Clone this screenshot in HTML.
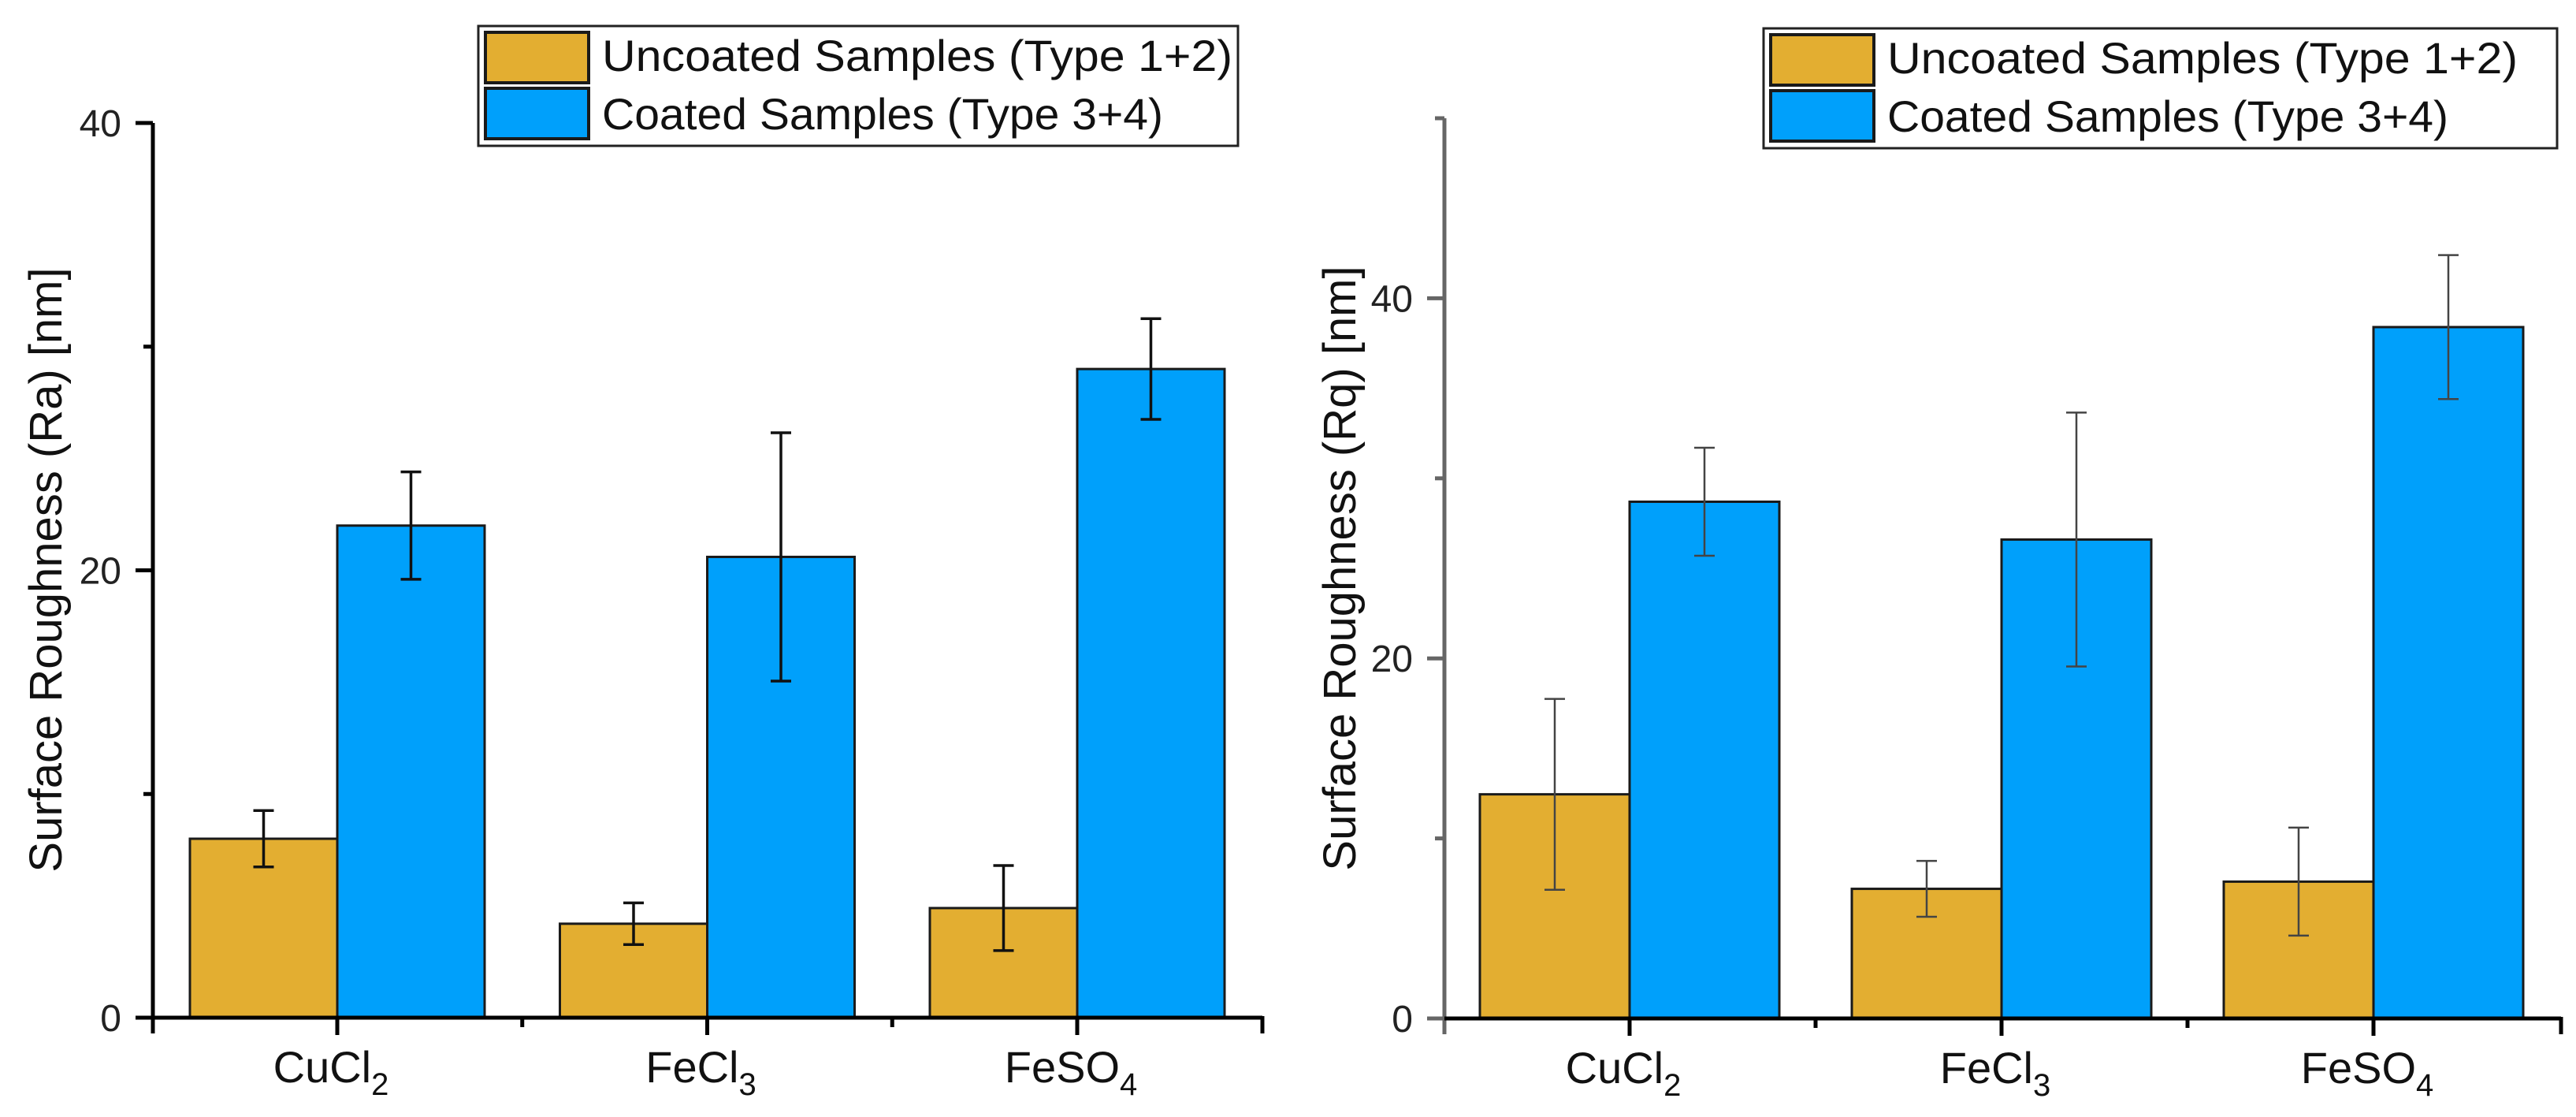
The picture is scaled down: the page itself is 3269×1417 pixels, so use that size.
<!DOCTYPE html>
<html><head><meta charset="utf-8"><style>
html,body{margin:0;padding:0;background:#fff;}
svg{display:block;font-family:"Liberation Sans",Arial,sans-serif;}
</style></head><body>
<svg id="fig" width="3269" height="1417" viewBox="0 0 3269 1417" xmlns="http://www.w3.org/2000/svg"></svg>
<script>
// ---- data ----
const categories = ["CuCl", "FeCl", "FeSO"];
const categorySubs = ["2", "3", "4"];
const seriesNames = ["Uncoated Samples (Type 1+2)", "Coated Samples (Type 3+4)"];
const raUncoated = [8.0, 4.2, 4.9];
const raUncoatedErr = [1.26, 0.93, 1.9];
const raCoated = [22.0, 20.6, 29.0];
const raCoatedErr = [2.4, 5.55, 2.25];
const rqUncoated = [12.45, 7.2, 7.6];
const rqUncoatedErr = [5.3, 1.55, 3.0];
const rqCoated = [28.7, 26.6, 38.4];
const rqCoatedErr = [3.0, 7.05, 4.0];
const raTicks = [0, 20, 40];
const raMinor = [10, 30];
const rqTicks = [0, 20, 40];
const rqMinor = [10, 30, 50];

const NS = "http://www.w3.org/2000/svg";
const svg = document.getElementById("fig");
const ORANGE = "#E3AE31", BLUE = "#00A0FB";
function mk(tag, attrs, parent) {
  const e = document.createElementNS(NS, tag);
  for (const k in attrs) e.setAttribute(k, attrs[k]);
  (parent || svg).appendChild(e);
  return e;
}

function drawChart(cfg) {
  const g = mk("g", {});
  
  
  const y = v => cfg.y0 - (v - 0) / cfg.ymax * (cfg.y0 - cfg.yTop);
  const cx = i => cfg.c0 + i * cfg.step;
  const bw = cfg.bw;
  // bars
  const series = [[cfg.s1, cfg.e1, ORANGE], [cfg.s2, cfg.e2, BLUE]];
  series.forEach((s, si) => {
    s[0].forEach((v, i) => {
      const x = si === 0 ? cx(i) - bw : cx(i);
      const r = mk("rect", {x: x, y: y(v), width: bw, height: cfg.y0 - y(v), fill: s[2], stroke: "#1a1a1a", "stroke-width": 3}, g);
      
      
    });
  });
  // error bars
  series.forEach((s, si) => {
    s[0].forEach((v, i) => {
      const x = si === 0 ? cx(i) - bw / 2 : cx(i) + bw / 2;
      const eg = mk("g", {stroke: cfg.errColor, "stroke-width": cfg.errW, fill: "none"}, g);
      
      
      const hi = y(v + s[1][i]), lo = y(v - s[1][i]);
      mk("line", {x1: x, x2: x, y1: hi, y2: lo}, eg);
      mk("line", {x1: x - 13, x2: x + 13, y1: hi, y2: hi}, eg);
      mk("line", {x1: x - 13, x2: x + 13, y1: lo, y2: lo}, eg);
    });
  });
  // axes
  const ax = mk("g", {stroke: cfg.axisColor, "stroke-width": 5}, g);
  
  
  mk("line", {x1: cfg.ax, x2: cfg.ax, y1: cfg.yTop, y2: cfg.y0 + 20}, ax);
  mk("line", {x1: cfg.ax - 2, x2: cfg.axEnd, y1: cfg.y0, y2: cfg.y0, stroke: "#000"}, ax);
  mk("line", {x1: cfg.axEnd, x2: cfg.axEnd, y1: cfg.y0 - 2, y2: cfg.y0 + 20, stroke: "#000"}, ax);
  cfg.ticks.forEach(t => {
    mk("line", {x1: cfg.ax - 22, x2: cfg.ax, y1: y(t), y2: y(t)}, ax);
    const tl = mk("text", {x: cfg.ax - 40, y: y(t) + 17, "font-size": 48, "text-anchor": "end", fill: "#222", stroke: "none"}, g);
    tl.textContent = t;
    
    
  });
  cfg.minor.forEach(t => mk("line", {x1: cfg.ax - 12, x2: cfg.ax, y1: y(t), y2: y(t)}, ax));
  categories.forEach((c, i) => {
    mk("line", {x1: cx(i), x2: cx(i), y1: cfg.y0, y2: cfg.y0 + 22, stroke: "#000"}, ax);
    if (i < categories.length - 1) mk("line", {x1: cx(i) + cfg.step / 2, x2: cx(i) + cfg.step / 2, y1: cfg.y0, y2: cfg.y0 + 12, stroke: "#000"}, ax);
    const t = mk("text", {x: cx(i) - 8, y: cfg.y0 + 82, "font-size": 56, "text-anchor": "middle", fill: "#111"}, g);
    
    
    t.appendChild(document.createTextNode(c));
    const sub = mk("tspan", {"font-size": 40, dy: 16}, t);
    sub.textContent = categorySubs[i];
  });
  // y title
  const yt = mk("text", {x: 0, y: 0, "font-size": 58, "text-anchor": "middle", fill: "#111", transform: `translate(${cfg.titleX},${cfg.titleY}) rotate(-90)`}, g);
  yt.textContent = cfg.title;
  
  
  // legend
  const lg = mk("g", {}, g);
  
  
  mk("rect", {x: cfg.lx, y: cfg.ly, width: cfg.lw, height: 152, fill: "#fff", stroke: "#222", "stroke-width": 3}, lg);
  seriesNames.forEach((n, k) => {
    const e = mk("g", {}, lg);
    
    
    mk("rect", {x: cfg.lx + 9, y: cfg.ly + 8 + k * 71, width: 131, height: 64, fill: k === 0 ? ORANGE : BLUE, stroke: "#1a1a1a", "stroke-width": 4}, e);
    const t = mk("text", {x: cfg.lx + 157, y: cfg.ly + 57 + k * 74, "font-size": 56, fill: "#111", textLength: k === 0 ? 800 : 712, lengthAdjust: "spacingAndGlyphs"}, e);
    t.textContent = n;
  });
}

drawChart({name: "ra-chart", s1: raUncoated, e1: raUncoatedErr, s2: raCoated, e2: raCoatedErr,
  ticks: raTicks, minor: raMinor, ymax: 40, y0: 1291, yTop: 156, ax: 194, axEnd: 1602,
  c0: 428, step: 469.5, bw: 187, errColor: "#111", errW: 3.5, axisColor: "#000",
  title: "Surface Roughness (Ra) [nm]", titleX: 78, titleY: 723, lx: 607, ly: 33, lw: 964});
drawChart({name: "rq-chart", s1: rqUncoated, e1: rqUncoatedErr, s2: rqCoated, e2: rqCoatedErr,
  ticks: rqTicks, minor: rqMinor, ymax: 50, y0: 1292, yTop: 150, ax: 1833, axEnd: 3250,
  c0: 2068, step: 472, bw: 190, errColor: "#444", errW: 2.5, axisColor: "#666",
  title: "Surface Roughness (Rq) [nm]", titleX: 1720, titleY: 721, lx: 2238, ly: 36, lw: 1007});
</script>
</body></html>
